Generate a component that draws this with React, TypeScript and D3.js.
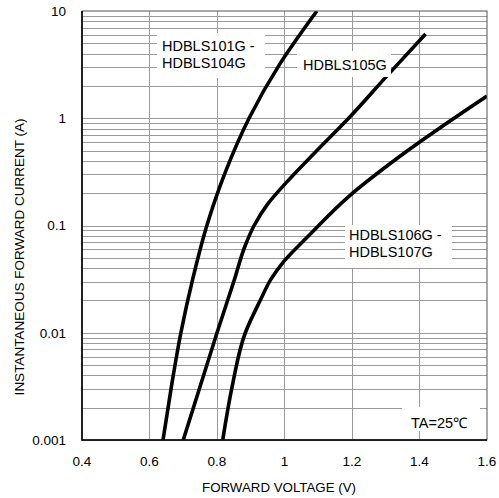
import React, { useEffect, useRef } from "react";
import * as d3 from "d3";

// forward voltage (V) / current (A)
const curve1V = [0.64, 0.665, 0.693, 0.728, 0.77, 0.825, 0.895, 0.985, 1.096];
const curve1I = [0.001, 0.00316, 0.01, 0.0316, 0.1, 0.316, 1, 3.16, 10];
const curve2V = [0.7, 0.8, 0.852, 0.882, 0.91, 0.95, 1.005, 1.096, 1.19, 1.305, 1.418];
const curve2I = [0.001, 0.01, 0.0316, 0.063, 0.1, 0.158, 0.251, 0.5, 1, 2.51, 6.1];
const curve3V = [0.817, 0.845, 0.884, 0.928, 0.96, 0.994, 1.07, 1.19, 1.34, 1.6];
const curve3I = [0.001, 0.00316, 0.01, 0.02, 0.0316, 0.0447, 0.0794, 0.186, 0.437, 1.61];

const xTicks = [0.4, 0.6, 0.8, 1, 1.2, 1.4, 1.6];
const yTicks = [0.001, 0.01, 0.1, 1, 10];
const yTickLabels = ["0.001", "0.01", "0.1", "1", "10"];

export default function App() {
  const ref = useRef(null);

  useEffect(() => {
    const width = 499;
    const height = 498;
    const left = 82,
      right = 487,
      top = 11,
      bottom = 440;
    const font = "Liberation Sans, Arial, sans-serif";

    const root = d3.select(ref.current);
    root.selectAll("*").remove();

    const svg = root
      .append("svg")
      .attr("width", width)
      .attr("height", height)
      .style("position", "absolute")
      .style("left", 0)
      .style("top", 0)
      .style("background", "#fff");

    const x = d3.scaleLinear().domain([0.4, 1.6]).range([left, right]);
    const y = d3.scaleLog().domain([0.001, 10]).range([bottom, top]);

    svg
      .append("defs")
      .append("clipPath")
      .attr("id", "plot")
      .append("rect")
      .attr("x", left)
      .attr("y", top)
      .attr("width", right - left)
      .attr("height", bottom - top);

    // horizontal grid: 1..9 in every decade
    const hLines = [];
    for (let d = 0.001; d < 10; d *= 10) {
      for (let k = 1; k <= 9; k++) hLines.push(+(d * k).toPrecision(3));
    }
    const grid = svg
      .append("g")
      .attr("stroke", "#9a9a9a")
      .attr("stroke-width", 1)
      .attr("shape-rendering", "crispEdges");
    grid
      .selectAll("line.h")
      .data(hLines)
      .join("line")
      .attr("x1", left)
      .attr("x2", right)
      .attr("y1", (d) => Math.round(y(d)) + 0.5)
      .attr("y2", (d) => Math.round(y(d)) + 0.5);
    grid
      .selectAll("line.v")
      .data(xTicks.slice(1, -1))
      .join("line")
      .attr("x1", (d) => Math.round(x(d)) + 0.5)
      .attr("x2", (d) => Math.round(x(d)) + 0.5)
      .attr("y1", top)
      .attr("y2", bottom);

    // curves: smooth V as a function of log(I)
    const line = d3
      .line()
      .x((d) => x(d[0]))
      .y((d) => y(d[1]))
      .curve(d3.curveMonotoneY);
    const curves = [
      d3.zip(curve1V, curve1I).reverse(),
      d3.zip(curve2V, curve2I).reverse(),
      d3.zip(curve3V, curve3I).reverse(),
    ];
    svg
      .append("g")
      .attr("clip-path", "url(#plot)")
      .selectAll("path")
      .data(curves)
      .join("path")
      .attr("d", line)
      .attr("fill", "none")
      .attr("stroke", "#000")
      .attr("stroke-width", 3.6);

    // labels with white boxes knocking out the grid
    const labels = [
      { box: [157, 33, 108, 45], lines: ["HDBLS101G -", "HDBLS104G"], tx: 162, ty: 51 },
      { box: [297, 51, 94, 26], lines: ["HDBLS105G"], tx: 303, ty: 70 },
      { box: [345, 225, 107, 43], lines: ["HDBLS106G -", "HDBLS107G"], tx: 349, ty: 240 },
      { box: [402, 407, 78, 24], lines: ["TA=25℃"], tx: 411, ty: 428 },
    ];
    labels.forEach((l) => {
      svg
        .append("rect")
        .attr("x", l.box[0])
        .attr("y", l.box[1])
        .attr("width", l.box[2])
        .attr("height", l.box[3])
        .attr("fill", "#fff");
      const t = svg
        .append("text")
        .attr("x", l.tx)
        .attr("y", l.ty)
        .attr("font-family", font)
        .attr("font-size", 14.5)
        .attr("fill", "#000");
      l.lines.forEach((s, i) =>
        t.append("tspan").attr("x", l.tx).attr("dy", i === 0 ? 0 : 17).text(s)
      );
    });

    // frame
    svg
      .append("rect")
      .attr("x", left)
      .attr("y", top)
      .attr("width", right - left)
      .attr("height", bottom - top)
      .attr("fill", "none")
      .attr("stroke", "#555")
      .attr("stroke-width", 1);
    svg
      .append("path")
      .attr("d", `M${left},${top}V${bottom}H${right}`)
      .attr("fill", "none")
      .attr("stroke", "#000")
      .attr("stroke-width", 1.6);

    // tick labels
    svg
      .append("g")
      .attr("font-family", font)
      .attr("font-size", 13.5)
      .attr("text-anchor", "middle")
      .selectAll("text")
      .data(xTicks)
      .join("text")
      .attr("x", (d) => x(d))
      .attr("y", 466)
      .text((d) => d3.format("~g")(d));
    svg
      .append("g")
      .attr("font-family", font)
      .attr("font-size", 13.5)
      .attr("text-anchor", "end")
      .selectAll("text")
      .data(yTicks)
      .join("text")
      .attr("x", 66)
      .attr("y", (d) => y(d) + 4.8)
      .text((d, i) => yTickLabels[i]);

    // axis titles
    svg
      .append("text")
      .attr("x", 279)
      .attr("y", 492)
      .attr("text-anchor", "middle")
      .attr("font-family", font)
      .attr("font-size", 13.3)
      .text("FORWARD VOLTAGE (V)");
    svg
      .append("text")
      .attr("transform", "translate(24,257) rotate(-90)")
      .attr("text-anchor", "middle")
      .attr("font-family", font)
      .attr("font-size", 13.5)
      .text("INSTANTANEOUS FORWARD CURRENT (A)");
  }, []);

  return <div ref={ref}></div>;
}
